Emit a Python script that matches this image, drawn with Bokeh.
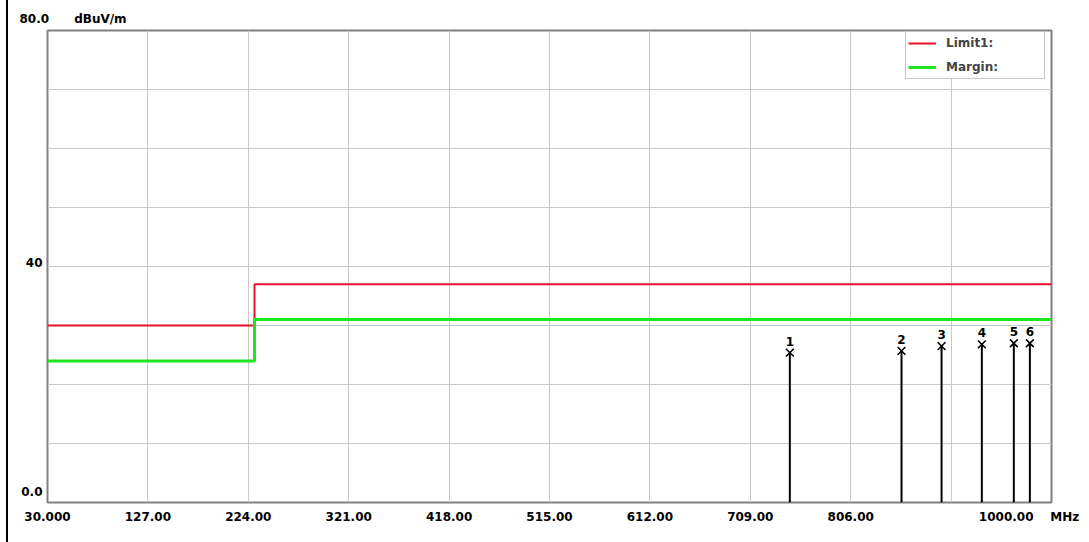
from bokeh.plotting import figure
from bokeh.models import FixedTicker, Legend, LegendItem, Range1d, ColumnDataSource
from bokeh.core.properties import value
from bokeh.embed import file_html
from bokeh.resources import INLINE

# ---- data ----
x_ticks = [30, 127, 224, 321, 418, 515, 612, 709, 806, 903, 1000]
x_tick_labels = ["30.000", "127.00", "224.00", "321.00", "418.00", "515.00",
                 "612.00", "709.00", "806.00", "", "1000.00"]
x_unit = "MHz"
y_grid = [0, 10, 20, 30, 40, 50, 60, 70, 80]
y_tick_values = [0, 40, 80]
y_tick_labels = ["0.0", "40", "80.0"]
y_unit = "dBuV/m"

limit_freq = [30, 230, 230, 1000]
limit_level = [30, 30, 37, 37]
margin_level = [24, 24, 31, 31]

marker_ids = ["1", "2", "3", "4", "5", "6"]
marker_freq = [747.2, 855.1, 893.8, 932.7, 963.6, 979.1]
marker_level = [25.4, 25.7, 26.5, 26.8, 27.0, 27.0]

FONT = "DejaVu Sans"
NB = "\u00a0"

W, H = 1089, 542
BL, BR, BT, BB = 47, 38, 30, 40
XMIN, XMAX, YMIN, YMAX = 30, 1000, 0, 80
px_x = (W - BL - BR) / (XMAX - XMIN)   # pixels per MHz
px_y = (H - BT - BB) / (YMAX - YMIN)   # pixels per dB

p = figure(width=W, height=H, x_range=Range1d(XMIN, XMAX), y_range=Range1d(YMIN, YMAX),
           output_backend="svg", toolbar_location=None,
           min_border_left=BL, min_border_right=BR, min_border_top=BT, min_border_bottom=BB)

p.outline_line_color = "#808080"
p.outline_line_width = 2
p.background_fill_color = "white"
p.border_fill_color = None
# thin black rule at the left edge of the picture
p.styles = {"background": "linear-gradient(to right, white 6px, black 6px, black 8px, white 8px)"}

# top-left "80.0   dBuV/m"
p.title.text = y_tick_labels[-1] + NB * 6 + y_unit
p.title.align = "left"
p.title.offset = -28
p.title.standoff = 9
p.title.text_font = FONT
p.title.text_font_style = "bold"
p.title.text_font_size = "12px"
p.title.text_color = "black"

label_font = dict(major_label_text_font=FONT, major_label_text_font_style="bold",
                  major_label_text_font_size="12px", major_label_text_color="black")

# x axis: labels centred on the grid ticks; the last one carries the unit and is
# shifted left so that "MHz" sits just right of the frame (as in the original).
last_shift_px = -22.5
x_label_pos = x_ticks[:-1] + [x_ticks[-1] + last_shift_px / px_x]
x_label_txt = x_tick_labels[:-1] + [x_tick_labels[-1] + NB * 4 + x_unit]
xa = p.xaxis[0]
xa.ticker = FixedTicker(ticks=x_label_pos)
xa.major_label_overrides = {t: l for t, l in zip(x_label_pos, x_label_txt)}
xa.axis_line_color = None
xa.major_tick_line_color = None
xa.minor_tick_line_color = None
xa.major_tick_in = 0
xa.major_tick_out = 0
xa.major_label_standoff = 7
for k, v in label_font.items():
    setattr(xa, k, v)

# y axis: labels sit just above their grid lines, like the original
y_shift_px = {0: 11, 40: 4}
y_label_pos = [v + y_shift_px[v] / px_y for v in y_tick_values[:-1]]
ya = p.yaxis[0]
ya.ticker = FixedTicker(ticks=y_label_pos)
ya.major_label_overrides = {t: l for t, l in zip(y_label_pos, y_tick_labels[:-1])}
ya.axis_line_color = None
ya.major_tick_line_color = None
ya.minor_tick_line_color = None
ya.major_tick_in = 0
ya.major_tick_out = 0
ya.major_label_standoff = 5
for k, v in label_font.items():
    setattr(ya, k, v)

p.xgrid.ticker = FixedTicker(ticks=x_ticks)
p.ygrid.ticker = FixedTicker(ticks=y_grid)
p.xgrid.grid_line_color = "#c8c8c8"
p.ygrid.grid_line_color = "#c8c8c8"

r_limit = p.line(limit_freq, limit_level, line_color="#e8132b", line_width=2)
r_margin = p.line(limit_freq, margin_level, line_color="#1ee61e", line_width=3)

src = ColumnDataSource(dict(f=marker_freq, lv=marker_level, z=[0] * len(marker_freq), id=marker_ids))
p.segment(x0="f", y0="z", x1="f", y1="lv", source=src, line_color="black", line_width=2)
p.scatter(x="f", y="lv", source=src, marker="x", size=11, line_color="black", line_width=1.6)
p.text(x="f", y="lv", text="id", source=src, text_align="center", text_baseline="bottom",
       y_offset=-7, text_font=value(FONT), text_font_style="bold", text_font_size="12px",
       text_color="black")

legend = Legend(items=[LegendItem(label="Limit1:", renderers=[r_limit]),
                       LegendItem(label="Margin:", renderers=[r_margin])],
                location=(858, 423))
legend.label_text_font = FONT
legend.label_text_font_style = "bold"
legend.label_text_font_size = "12px"
legend.glyph_width = 28
legend.glyph_height = 18
legend.label_height = 18
legend.label_width = 96
legend.label_standoff = 10
legend.spacing = 6
legend.padding = 2
legend.margin = 0
legend.border_line_color = "#909090"
legend.border_line_width = 1
legend.background_fill_alpha = 1
p.add_layout(legend)

open("out.html", "w").write(file_html(p, INLINE))
